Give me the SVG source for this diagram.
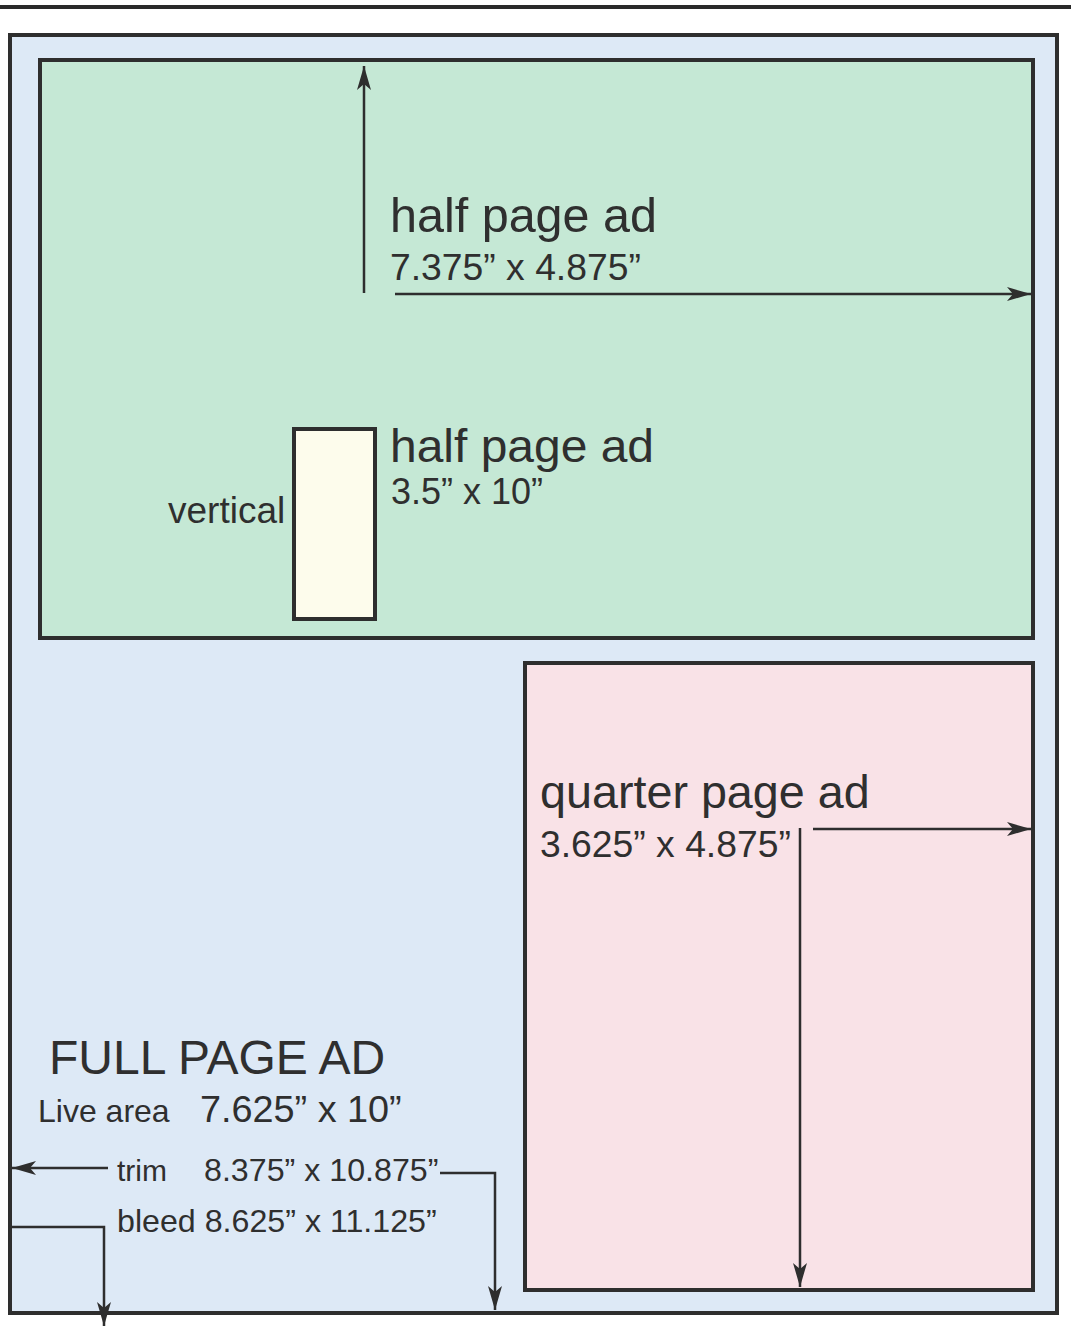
<svg xmlns="http://www.w3.org/2000/svg" width="1071" height="1326" viewBox="0 0 1071 1326">
<style>
.box{stroke:#2e2e2e;stroke-width:4}
.t{font-family:"Liberation Sans",Arial,sans-serif;fill:#2f2f2f}
.c{fill:none;stroke:#2e2e2e;stroke-width:2.5}
</style>
<defs>
<marker id="ah" markerWidth="26" markerHeight="16" refX="24" refY="8" orient="auto" markerUnits="userSpaceOnUse">
<path d="M0,1 L24,8 L0,15 L6,8 Z" fill="#2e2e2e"/>
</marker>
</defs>
<rect width="1071" height="1326" fill="#ffffff"/>
<line x1="0" y1="7" x2="1071" y2="7" stroke="#2a2a2a" stroke-width="4"/>
<g id="full-page">
<rect class="box" x="10" y="35" width="1047" height="1278" fill="#dde9f6"/>
<text class="t" x="49" y="1074" font-size="48">FULL PAGE AD</text>
<text class="t" x="38" y="1122" font-size="32">Live area</text>
<text class="t" x="200" y="1122" font-size="37.8">7.625” x 10”</text>
<text class="t" x="117" y="1181" font-size="30">trim</text>
<text class="t" x="204" y="1181" font-size="32.2">8.375” x 10.875”</text>
<text class="t" x="117" y="1232" font-size="32.2">bleed 8.625” x 11.125”</text>
</g>
<g id="half-horizontal">
<rect class="box" x="40" y="60" width="993" height="578" fill="#c5e8d5"/>
<text class="t" x="390" y="232" font-size="48.5">half page ad</text>
<text class="t" x="390" y="280" font-size="37.3">7.375” x 4.875”</text>
</g>
<g id="half-vertical">
<rect class="box" x="294" y="429" width="81" height="190" fill="#fdfcec"/>
<text class="t" x="390" y="462" font-size="46" textLength="264" lengthAdjust="spacingAndGlyphs">half page ad</text>
<text class="t" x="391" y="504" font-size="36">3.5” x 10”</text>
<text class="t" x="168" y="523" font-size="37">vertical</text>
</g>
<g id="quarter">
<rect class="box" x="525" y="663" width="508" height="627" fill="#f9e2e7"/>
<text class="t" x="540" y="808" font-size="46.7">quarter page ad</text>
<text class="t" x="540" y="857" font-size="37.3">3.625” x 4.875”</text>
</g>
<g id="connectors">
<line class="c" x1="364" y1="293" x2="364" y2="66" marker-end="url(#ah)"/>
<line class="c" x1="395" y1="294" x2="1031" y2="294" marker-end="url(#ah)"/>
<line class="c" x1="813" y1="829" x2="1031" y2="829" marker-end="url(#ah)"/>
<line class="c" x1="800" y1="828" x2="800" y2="1287" marker-end="url(#ah)"/>
<line class="c" x1="108" y1="1168" x2="12" y2="1168" marker-end="url(#ah)"/>
<polyline class="c" points="440,1173 495,1173 495,1310" marker-end="url(#ah)"/>
<polyline class="c" points="12,1227 104,1227 104,1326" marker-end="url(#ah)"/>
</g>
</svg>
